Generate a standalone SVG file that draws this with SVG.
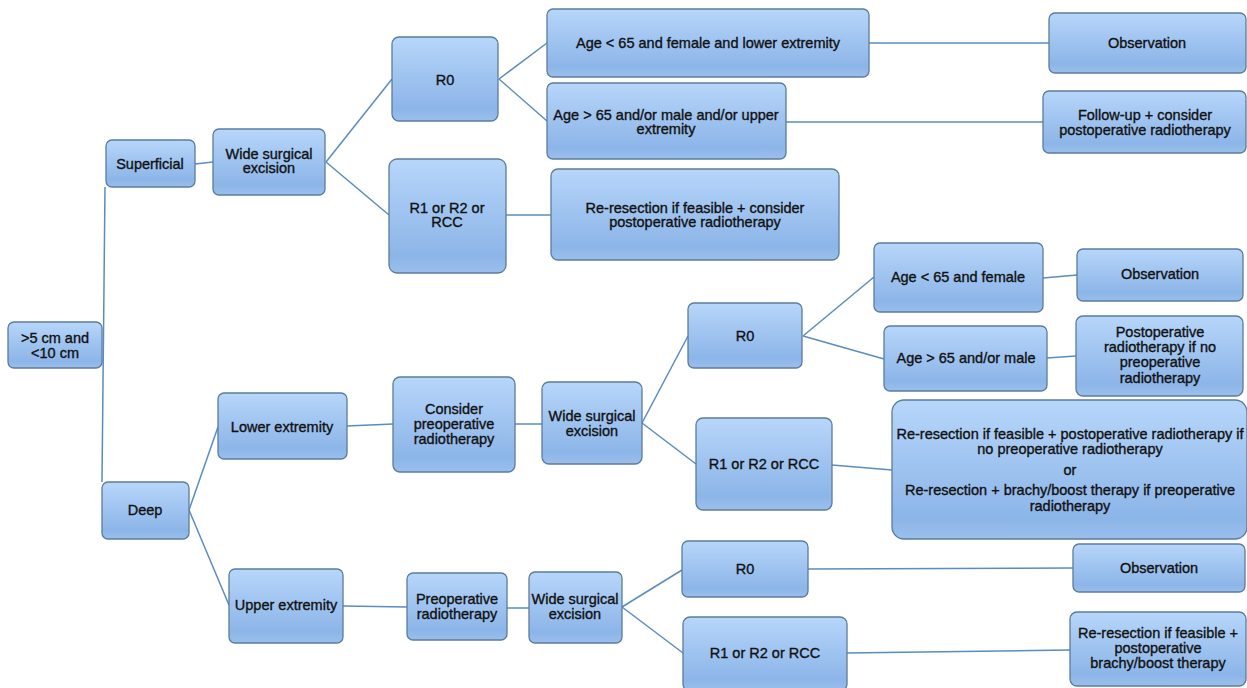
<svg xmlns="http://www.w3.org/2000/svg" width="1247" height="688" viewBox="0 0 1247 688">
<defs>
<linearGradient id="g" x1="0" y1="0" x2="0" y2="1">
<stop offset="0" stop-color="#b7d6fa"/>
<stop offset="0.85" stop-color="#8cb5e8"/>
<stop offset="1" stop-color="#9abfec"/>
</linearGradient>
<style>
.n rect{fill:url(#g);stroke:#5c7c9c;stroke-width:1.3}
.n text{font-family:"Liberation Sans",Arial,sans-serif;font-size:14.5px;fill:#111;stroke:#111;stroke-width:0.35;text-anchor:middle}
#connectors line{stroke:#5a8cc0;stroke-width:1.5}
</style>
</defs>
<rect width="1247" height="688" fill="#fff"/>
<g id="connectors">
<line x1="105" y1="187" x2="102" y2="482"/>
<line x1="195" y1="164" x2="213" y2="162"/>
<line x1="326" y1="162" x2="392" y2="79"/>
<line x1="326" y1="162" x2="389" y2="215"/>
<line x1="499" y1="79" x2="547" y2="43"/>
<line x1="499" y1="79" x2="547" y2="121"/>
<line x1="506" y1="215" x2="551" y2="215"/>
<line x1="869" y1="43" x2="1049" y2="43"/>
<line x1="786" y1="122" x2="1043" y2="122"/>
<line x1="189" y1="510" x2="218" y2="427"/>
<line x1="189" y1="510" x2="229" y2="605"/>
<line x1="347" y1="426" x2="393" y2="424"/>
<line x1="515" y1="424" x2="542" y2="424"/>
<line x1="642" y1="423" x2="688" y2="336"/>
<line x1="642" y1="423" x2="696" y2="464"/>
<line x1="803" y1="336" x2="874" y2="277"/>
<line x1="803" y1="336" x2="884" y2="359"/>
<line x1="832" y1="465" x2="892" y2="470"/>
<line x1="1043" y1="278" x2="1077" y2="275"/>
<line x1="1047" y1="358" x2="1076" y2="356"/>
<line x1="343" y1="606" x2="407" y2="607"/>
<line x1="507" y1="608" x2="529" y2="608"/>
<line x1="622" y1="607" x2="682" y2="570"/>
<line x1="622" y1="607" x2="683" y2="653"/>
<line x1="808" y1="569" x2="1073" y2="568"/>
<line x1="847" y1="653" x2="1070" y2="650"/>
</g>
<g id="root" class="n"><rect x="8" y="322" width="94" height="46" rx="6"/><text x="55" y="343">&gt;5 cm and</text><text x="55" y="358">&lt;10 cm</text></g>
<g id="superficial" class="n"><rect x="106" y="140" width="89" height="47" rx="6"/><text x="150" y="169">Superficial</text></g>
<g id="wide1" class="n"><rect x="213" y="129" width="112" height="66" rx="6"/><text x="269" y="159">Wide surgical</text><text x="269" y="173">excision</text></g>
<g id="r0a" class="n"><rect x="392" y="37" width="106" height="84" rx="7"/><text x="445" y="85">R0</text></g>
<g id="r1a" class="n"><rect x="389" y="159" width="117" height="114" rx="8"/><text x="447" y="213">R1 or R2 or</text><text x="447" y="227">RCC</text></g>
<g id="age1" class="n"><rect x="547" y="9" width="322" height="68" rx="6"/><text x="708" y="48">Age &lt; 65 and female and  lower extremity</text></g>
<g id="age2" class="n"><rect x="547" y="83" width="239" height="76" rx="6"/><text x="666" y="120">Age &gt; 65 and/or male and/or upper</text><text x="666" y="134">extremity</text></g>
<g id="rer1" class="n"><rect x="551" y="169" width="288" height="91" rx="7"/><text x="695" y="213">Re-resection  if feasible + consider</text><text x="695" y="227">postoperative radiotherapy</text></g>
<g id="obs1" class="n"><rect x="1049" y="13" width="197" height="60" rx="6"/><text x="1147" y="48">Observation</text></g>
<g id="follow" class="n"><rect x="1043" y="91" width="203" height="62" rx="6"/><text x="1145" y="120">Follow-up + consider</text><text x="1145" y="135">postoperative radiotherapy</text></g>
<g id="deep" class="n"><rect x="102" y="482" width="87" height="57" rx="6"/><text x="145" y="515">Deep</text></g>
<g id="lower" class="n"><rect x="218" y="393" width="129" height="66" rx="6"/><text x="282" y="432">Lower extremity</text></g>
<g id="upper" class="n"><rect x="229" y="569" width="114" height="74" rx="6"/><text x="286" y="610">Upper extremity</text></g>
<g id="consider" class="n"><rect x="393" y="377" width="122" height="95" rx="7"/><text x="454" y="414">Consider</text><text x="454" y="429">preoperative</text><text x="454" y="444">radiotherapy</text></g>
<g id="wide2" class="n"><rect x="542" y="382" width="100" height="82" rx="7"/><text x="592" y="421">Wide surgical</text><text x="592" y="436">excision</text></g>
<g id="r0b" class="n"><rect x="688" y="303" width="114" height="65" rx="6"/><text x="745" y="341">R0</text></g>
<g id="r1b" class="n"><rect x="696" y="418" width="136" height="92" rx="7"/><text x="764" y="469">R1 or R2 or RCC</text></g>
<g id="age3" class="n"><rect x="874" y="243" width="169" height="69" rx="6"/><text x="958" y="282">Age &lt; 65 and female</text></g>
<g id="obs2" class="n"><rect x="1077" y="249" width="166" height="52" rx="6"/><text x="1160" y="279">Observation</text></g>
<g id="age4" class="n"><rect x="884" y="326" width="163" height="65" rx="6"/><text x="966" y="363">Age &gt; 65 and/or male</text></g>
<g id="postop" class="n"><rect x="1076" y="316" width="167" height="80" rx="7"/><text x="1160" y="337">Postoperative</text><text x="1160" y="352">radiotherapy if no</text><text x="1160" y="367">preoperative</text><text x="1160" y="383">radiotherapy</text></g>
<g id="rer2" class="n"><rect x="892" y="400" width="355" height="139" rx="12"/><text x="1070" y="439">Re-resection if feasible + postoperative radiotherapy if</text><text x="1070" y="454">no preoperative radiotherapy</text><text x="1070" y="475">or</text><text x="1070" y="495">Re-resection + brachy/boost therapy if preoperative</text><text x="1070" y="511">radiotherapy</text></g>
<g id="preop" class="n"><rect x="407" y="573" width="100" height="67" rx="6"/><text x="457" y="604">Preoperative</text><text x="457" y="619">radiotherapy</text></g>
<g id="wide3" class="n"><rect x="529" y="572" width="93" height="71" rx="6"/><text x="575" y="604">Wide surgical</text><text x="575" y="619">excision</text></g>
<g id="r0c" class="n"><rect x="682" y="541" width="126" height="56" rx="6"/><text x="745" y="574">R0</text></g>
<g id="r1c" class="n"><rect x="683" y="617" width="164" height="74" rx="7"/><text x="765" y="658">R1 or R2 or RCC</text></g>
<g id="obs3" class="n"><rect x="1073" y="544" width="172" height="48" rx="6"/><text x="1159" y="573">Observation</text></g>
<g id="rer3" class="n"><rect x="1070" y="612" width="176" height="74" rx="7"/><text x="1158" y="638">Re-resection if feasible  +</text><text x="1158" y="653">postoperative</text><text x="1158" y="668">brachy/boost therapy</text></g>
</svg>
